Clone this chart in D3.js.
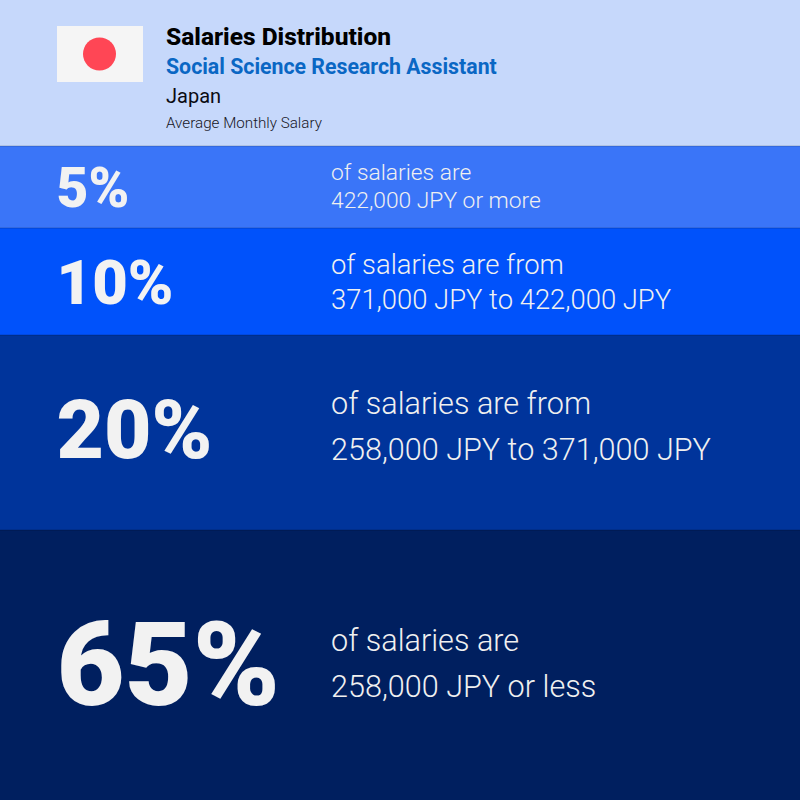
<!DOCTYPE html>
<html>
<head>
<meta charset="utf-8">
<script src="https://cdn.jsdelivr.net/npm/d3@7"></script>
<style>
  html, body { margin: 0; padding: 0; background: #fff; }
  svg { display: block; font-family: Roboto, sans-serif; }
</style>
</head>
<body>
<svg id="chart" width="800" height="800"></svg>
<script>
const percents = [5, 10, 20, 65]
const firstLines = ['of salaries are', 'of salaries are from', 'of salaries are from', 'of salaries are']
const secondLines = ['422,000 JPY or more', '371,000 JPY to 422,000 JPY', '258,000 JPY to 371,000 JPY', '258,000 JPY or less']
const bandColors = ['#3a75f8', '#0052fb', '#00349b', '#001f5f']

// bands are not proportional in the picture, so the edges are set by hand
const bandEdges = d3.scaleOrdinal().domain(percents).range([146, 228, 335, 530])
const bandSize = d3.scaleOrdinal().domain(percents).range([82, 107, 195, 270])
const bigFont = d3.scaleOrdinal().domain(percents).range([55, 61.5, 82, 117.5])
const bigBase = d3.scaleOrdinal().domain(percents).range([207, 304, 458, 705])
const textFont = d3.scaleOrdinal().domain(percents).range([22.8, 27.4, 30.6, 30.6])
const line1Base = d3.scaleOrdinal().domain(percents).range([180, 274, 414, 651])
const line2Base = d3.scaleOrdinal().domain(percents).range([208, 309, 460, 697])

const svg = d3.select('#chart')

svg.append('rect')
    .attr('width', 800)
    .attr('height', 146)
    .attr('fill', '#c6d8fb')

// flag
svg.append('rect')
    .attr('x', 57)
    .attr('y', 26)
    .attr('width', 86)
    .attr('height', 56)
    .attr('fill', '#f5f5f5')

svg.append('circle')
    .attr('cx', 99.5)
    .attr('cy', 54)
    .attr('r', 16.5)
    .attr('fill', '#ff4655')

const titles = [
    { text: 'Salaries Distribution', y: 45, size: 24.5, weight: 800, color: '#000000' },
    { text: 'Social Science Research Assistant', y: 74, size: 21.3, weight: 700, color: '#0a67c4' },
    { text: 'Japan', y: 103, size: 20, weight: 400, color: '#0b0b12' },
    { text: 'Average Monthly Salary', y: 128, size: 15.2, weight: 300, color: '#16161e' }
]

svg.selectAll('.title')
    .data(titles)
    .join('text')
    .classed('title', true)
    .attr('x', 166)
    .attr('y', d => d.y)
    .attr('font-size', d => d.size)
    .attr('font-weight', d => d.weight)
    .attr('fill', d => d.color)
    .text(d => d.text)

const bands = svg.selectAll('.band')
    .data(percents)
    .join('g')
    .classed('band', true)

bands.append('rect')
    .attr('x', 0)
    .attr('y', d => bandEdges(d))
    .attr('width', 800)
    .attr('height', d => bandSize(d))
    .attr('fill', (d, i) => bandColors[i])

// soft dark edge along the top of each band
bands.append('rect')
    .attr('x', 0)
    .attr('y', d => bandEdges(d) - 1)
    .attr('width', 800)
    .attr('height', 2)
    .attr('fill', '#000')
    .attr('opacity', 0.1)

bands.append('text')
    .attr('x', 56.5)
    .attr('y', d => bigBase(d))
    .attr('font-size', d => bigFont(d))
    .attr('font-weight', 900)
    .attr('fill', '#f2f2f2')
    .text(d => `${d}%`)

bands.append('text')
    .attr('x', 331)
    .attr('y', d => line1Base(d))
    .attr('font-size', d => textFont(d))
    .attr('font-weight', 300)
    .attr('fill', '#f0f0f0')
    .text((d, i) => firstLines[i])

bands.append('text')
    .attr('x', 331)
    .attr('y', d => line2Base(d))
    .attr('font-size', d => textFont(d))
    .attr('font-weight', 300)
    .attr('fill', '#f0f0f0')
    .text((d, i) => secondLines[i])
</script>
</body>
</html>
